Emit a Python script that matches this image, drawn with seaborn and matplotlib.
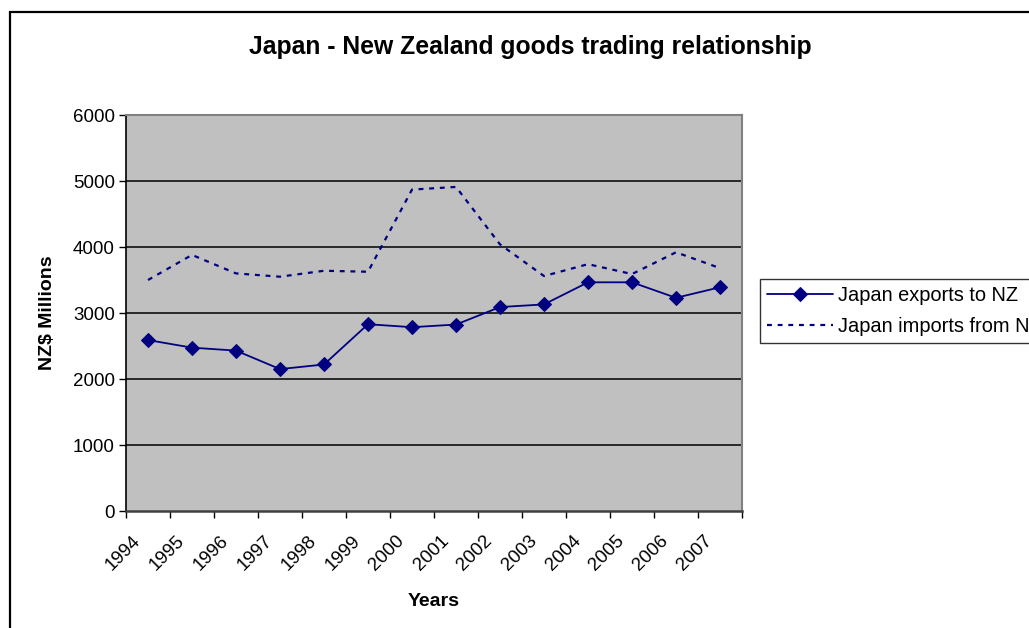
import numpy as np
import pandas as pd
import matplotlib
matplotlib.use("Agg")
import matplotlib.pyplot as plt
from matplotlib.patches import Rectangle
from matplotlib.transforms import ScaledTranslation
import seaborn as sns

years = ["1994", "1995", "1996", "1997", "1998", "1999", "2000",
         "2001", "2002", "2003", "2004", "2005", "2006", "2007"]
exports_to_nz = [2590, 2475, 2430, 2150, 2220, 2830, 2785,
                 2825, 3090, 3130, 3465, 3465, 3230, 3390]
imports_from_nz = [3500, 3880, 3600, 3550, 3640, 3625, 4870,
                   4910, 4040, 3560, 3740, 3590, 3920, 3680]

sns.set_theme(style="white")
plt.rcParams["font.family"] = ["Liberation Sans", "DejaVu Sans"]
plt.rcParams["text.color"] = "black"
plt.rcParams["axes.labelcolor"] = "black"
plt.rcParams["xtick.color"] = "black"
plt.rcParams["ytick.color"] = "black"

navy = "#000080"
pos = np.arange(len(years))
df = pd.DataFrame({"pos": pos, "exports": exports_to_nz, "imports": imports_from_nz})

fig = plt.figure(figsize=(10.29, 6.28), dpi=100)
ax = fig.add_axes([126 / 1029, 1 - 511 / 628, (742 - 126) / 1029, (511 - 115) / 628])
ax.set_facecolor("#c0c0c0")

# outer chart-area border (top and left edges visible)
fig.patches.append(Rectangle((10 / 1029, -0.1), 1.2, 1 - 12 / 628 + 0.1,
                             transform=fig.transFigure, fill=False,
                             edgecolor="black", linewidth=1.6, zorder=0))

sns.lineplot(data=df, x="pos", y="exports", ax=ax, color=navy, linewidth=1.3,
             marker="D", markersize=7.5, markeredgecolor=navy,
             label="Japan exports to NZ", zorder=4)
sns.lineplot(data=df, x="pos", y="imports", ax=ax, color=navy, linewidth=1.6,
             linestyle=(0, (2.2, 2.6)), label="Japan imports from NZ", zorder=3)

ax.set_xlim(-0.5, len(years) - 0.5)
ax.set_ylim(0, 6000)
ax.set_yticks(np.arange(0, 6001, 1000))
ax.set_yticklabels([str(v) for v in range(0, 6001, 1000)], fontsize=13.5)
for v in range(1000, 6000, 1000):
    ax.axhline(v, color="black", linewidth=1.1, zorder=1)

# category boundaries carry the tick marks; year labels hang from them, rotated
ax.set_xticks(np.arange(-0.5, len(years), 1.0))
ax.set_xticklabels([])
label_tf = ax.get_xaxis_transform() + ScaledTranslation(6 / 100, -21 / 100, fig.dpi_scale_trans)
for i, yr in enumerate(years):
    ax.text(i - 0.5, 0, yr, transform=label_tf, fontsize=13.5, rotation=45,
            ha="right", va="top", rotation_mode="anchor")

ax.tick_params(axis="both", which="major", direction="out", length=5, width=1,
               color="black", bottom=True, left=True, pad=3)

for side in ["top", "right"]:
    ax.spines[side].set_color("#808080")
    ax.spines[side].set_linewidth(1.5)
ax.spines["left"].set_color("black")
ax.spines["left"].set_linewidth(1.2)
ax.spines["bottom"].set_color("#404040")
ax.spines["bottom"].set_linewidth(1.8)

ax.set_xlabel("Years", fontsize=14, fontweight="bold")
ax.set_ylabel("NZ$ Millions", fontsize=14, fontweight="bold")
ax.xaxis.set_label_coords((434 - 126) / 616, -(593 - 511) / 396)
ax.yaxis.set_label_coords(-(126 - 56) / 616, 0.5)

fig.text(530 / 1029, 1 - 47 / 628, "Japan - New Zealand goods trading relationship",
         ha="center", va="center", fontsize=17.8, fontweight="bold")

leg = ax.legend(loc="upper left", bbox_to_anchor=(760 / 1029, 1 - 279 / 628),
                bbox_transform=fig.transFigure, frameon=True, fancybox=False,
                fontsize=14.4, handlelength=3.3, borderpad=0.35, labelspacing=0.62,
                handletextpad=0.25, borderaxespad=0)
leg.get_frame().set_edgecolor("black")
leg.get_frame().set_linewidth(1.0)

fig.savefig("out.png", dpi=100, facecolor="white")
